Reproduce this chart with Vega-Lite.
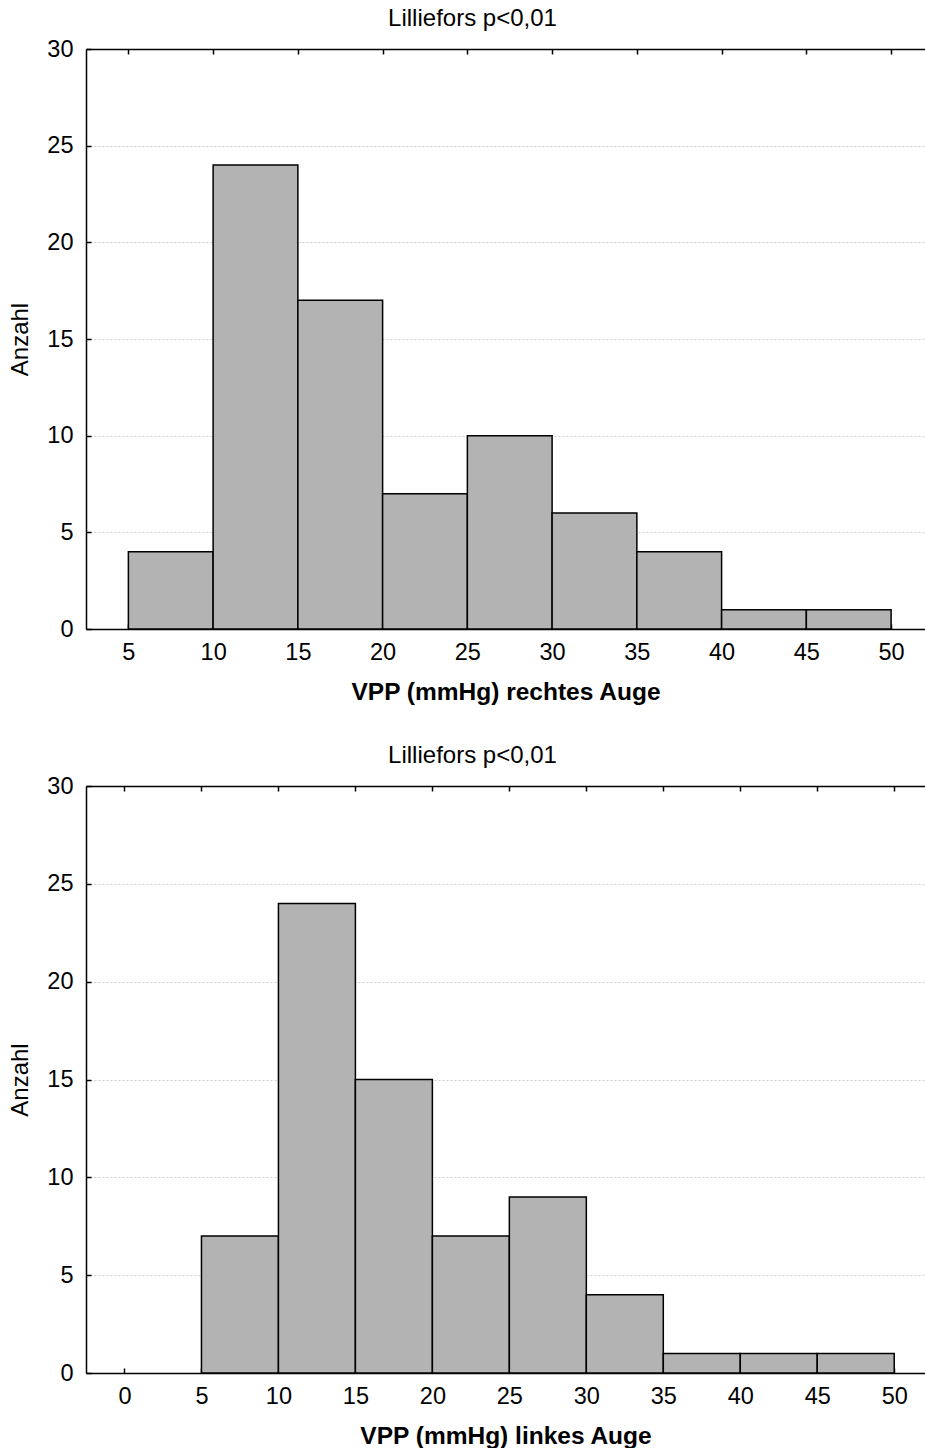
{
  "$schema": "https://vega.github.io/schema/vega-lite/v6.json",
  "background": "white",
  "padding": {"left": 8, "top": 7, "right": 0, "bottom": 0},
  "config": {
    "font": "Liberation Sans",
    "view": {"stroke": null},
    "axis": {
      "domainColor": "black",
      "domainWidth": 1.5,
      "tickColor": "black",
      "tickWidth": 1.5,
      "tickSize": -5,
      "labelFontSize": 23.5,
      "labelColor": "black",
      "titleColor": "black",
      "labelFont": "Liberation Sans",
      "titleFont": "Liberation Sans"
    },
    "title": {"font": "Liberation Sans", "color": "black"}
  },
  "datasets": {
    "rechts": [
      {"start": 5, "end": 10, "count": 4},
      {"start": 10, "end": 15, "count": 24},
      {"start": 15, "end": 20, "count": 17},
      {"start": 20, "end": 25, "count": 7},
      {"start": 25, "end": 30, "count": 10},
      {"start": 30, "end": 35, "count": 6},
      {"start": 35, "end": 40, "count": 4},
      {"start": 40, "end": 45, "count": 1},
      {"start": 45, "end": 50, "count": 1}
    ],
    "links": [
      {"start": 5, "end": 10, "count": 7},
      {"start": 10, "end": 15, "count": 24},
      {"start": 15, "end": 20, "count": 15},
      {"start": 20, "end": 25, "count": 7},
      {"start": 25, "end": 30, "count": 9},
      {"start": 30, "end": 35, "count": 4},
      {"start": 35, "end": 40, "count": 1},
      {"start": 40, "end": 45, "count": 1},
      {"start": 45, "end": 50, "count": 1}
    ]
  },
  "spacing": 40,
  "vconcat": [
    {
      "data": {"name": "rechts"},
      "title": {"text": "Lilliefors p<0,01", "fontSize": 24, "fontWeight": "normal", "dx": -33, "offset": 6},
      "width": 839,
      "height": 580,
      "layer": [
        {
          "mark": {"type": "bar", "fill": "#b3b3b3", "stroke": "black", "strokeWidth": 1.5},
          "encoding": {
            "x": {"field": "start", "type": "quantitative",
              "scale": {"domain": [2.5, 52], "nice": false, "zero": false},
              "axis": {"orient": "bottom", "values": [5, 10, 15, 20, 25, 30, 35, 40, 45, 50], "grid": false,
                "title": "VPP (mmHg) rechtes Auge", "titleFontSize": 24.5, "titleFontWeight": "bold", "labelPadding": 16, "titlePadding": 17}},
            "x2": {"field": "end"},
            "y": {"field": "count", "type": "quantitative",
              "scale": {"domain": [0, 30], "nice": false},
              "axis": {"values": [0, 5, 10, 15, 20, 25, 30], "title": "Anzahl", "titleFontSize": 24, "titleFontWeight": "normal",
                "labelPadding": 18, "titlePadding": 14, "grid": true, "gridColor": "#cccccc", "gridDash": [2, 2],
                "gridOpacity": {"condition": {"test": "datum.value == 0 || datum.value == 30", "value": 0}, "value": 1}}},
            "y2": {"datum": 0}
          }
        },
        {
          "mark": {"type": "bar", "opacity": 0},
          "encoding": {
            "x": {"field": "start", "type": "quantitative",
              "axis": {"orient": "top", "values": [5, 10, 15, 20, 25, 30, 35, 40, 45, 50], "labels": false, "title": null, "grid": false}},
            "x2": {"field": "end"}
          }
        }
      ],
      "resolve": {"axis": {"x": "independent"}}
    },
    {
      "data": {"name": "links"},
      "title": {"text": "Lilliefors p<0,01", "fontSize": 24, "fontWeight": "normal", "dx": -33, "offset": 6},
      "width": 839,
      "height": 587,
      "layer": [
        {
          "mark": {"type": "bar", "fill": "#b3b3b3", "stroke": "black", "strokeWidth": 1.5},
          "encoding": {
            "x": {"field": "start", "type": "quantitative",
              "scale": {"domain": [-2.5, 52], "nice": false, "zero": false},
              "axis": {"orient": "bottom", "values": [0, 5, 10, 15, 20, 25, 30, 35, 40, 45, 50], "grid": false,
                "title": "VPP (mmHg) linkes Auge", "titleFontSize": 24.5, "titleFontWeight": "bold", "labelPadding": 16, "titlePadding": 17}},
            "x2": {"field": "end"},
            "y": {"field": "count", "type": "quantitative",
              "scale": {"domain": [0, 30], "nice": false},
              "axis": {"values": [0, 5, 10, 15, 20, 25, 30], "title": "Anzahl", "titleFontSize": 24, "titleFontWeight": "normal",
                "labelPadding": 18, "titlePadding": 14, "grid": true, "gridColor": "#cccccc", "gridDash": [2, 2],
                "gridOpacity": {"condition": {"test": "datum.value == 0 || datum.value == 30", "value": 0}, "value": 1}}},
            "y2": {"datum": 0}
          }
        },
        {
          "mark": {"type": "bar", "opacity": 0},
          "encoding": {
            "x": {"field": "start", "type": "quantitative",
              "axis": {"orient": "top", "values": [0, 5, 10, 15, 20, 25, 30, 35, 40, 45, 50], "labels": false, "title": null, "grid": false}},
            "x2": {"field": "end"}
          }
        }
      ],
      "resolve": {"axis": {"x": "independent"}}
    }
  ]
}
